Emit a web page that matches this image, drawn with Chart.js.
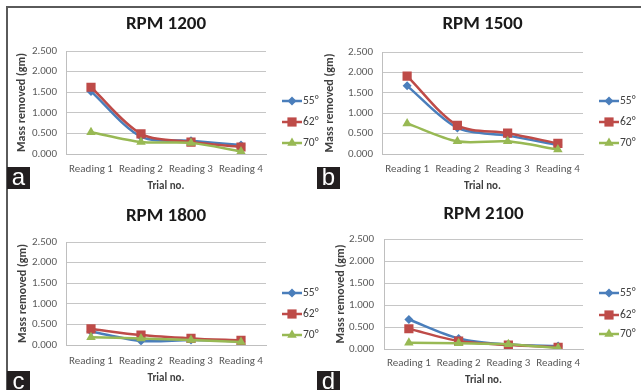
<!DOCTYPE html>
<html>
<head>
<meta charset="utf-8">
<script src="https://cdn.jsdelivr.net/npm/chart.js@4/dist/chart.umd.min.js"></script>
<style>
  html, body { margin: 0; padding: 0; background: #fff; }
  #wrap { position: relative; width: 641px; height: 390px; overflow: hidden; background: #fff; }
  canvas { position: absolute; }
  .hline { position: absolute; left: 6px; top: 6px; width: 635px; height: 2px; background: #5a5a5a; z-index: 5; }
  .vline { position: absolute; left: 6px; top: 6px; width: 2px; height: 384px; background: #5a5a5a; z-index: 5; }
  .lab { position: absolute; width: 23px; height: 22px; background: #231f20; color: #fff;
         font-family: "Liberation Sans", Arial, sans-serif; font-size: 24px; line-height: 20px;
         text-align: center; z-index: 6; }
</style>
</head>
<body>
<div id="wrap">
  <canvas id="ca" width="320" height="195" style="left:0;top:0"></canvas>
  <canvas id="cb" width="321" height="195" style="left:320px;top:0"></canvas>
  <canvas id="cc" width="320" height="195" style="left:0;top:195px"></canvas>
  <canvas id="cd" width="321" height="195" style="left:320px;top:195px"></canvas>
  <div class="hline"></div>
  <div class="vline"></div>
  <div class="lab" style="left:7px;top:167px">a</div>
  <div class="lab" style="left:317px;top:167px">b</div>
  <div class="lab" style="left:7px;top:371px">c</div>
  <div class="lab" style="left:317px;top:371px">d</div>
</div>
<script>
// ---------- DATA ----------
const categories = ['Reading 1', 'Reading 2', 'Reading 3', 'Reading 4'];
const seriesNames = ['55°', '62°', '70°'];
const panelTitles = ['RPM 1200', 'RPM 1500', 'RPM 1800', 'RPM 2100'];
const yTickValues = [0, 0.5, 1, 1.5, 2, 2.5];
const yTickLabels = ['0.000', '0.500', '1.000', '1.500', '2.000', '2.500'];
const xAxisTitle = 'Trial no.';
const yAxisTitle = 'Mass removed (gm)';

const rpm1200_55 = [1.52, 0.42, 0.32, 0.22];
const rpm1200_62 = [1.62, 0.49, 0.29, 0.17];
const rpm1200_70 = [0.53, 0.29, 0.27, 0.06];

const rpm1500_55 = [1.67, 0.64, 0.45, 0.22];
const rpm1500_62 = [1.91, 0.70, 0.51, 0.26];
const rpm1500_70 = [0.75, 0.31, 0.31, 0.11];

const rpm1800_55 = [0.33, 0.10, 0.12, 0.09];
const rpm1800_62 = [0.39, 0.24, 0.16, 0.11];
const rpm1800_70 = [0.19, 0.16, 0.12, 0.07];

const rpm2100_55 = [0.67, 0.24, 0.10, 0.07];
const rpm2100_62 = [0.46, 0.18, 0.09, 0.04];
const rpm2100_70 = [0.14, 0.13, 0.11, 0.02];

// ---------- STYLE ----------
const FONT = 'Carlito, Lato, "Open Sans", sans-serif';
const seriesStyle = [
  { color: '#4a7ebb', pointStyle: 'rectRot', radius: 4.5, order: 3 },
  { color: '#be4b48', pointStyle: 'rect', radius: 6.5, order: 2 },
  { color: '#98b954', pointStyle: 'triangle', radius: 5.5, order: 1 }
];

const panels = [
  { id: 'ca', title: panelTitles[0], data: [rpm1200_55, rpm1200_62, rpm1200_70],
    W: 320, H: 195, L: 66, R: 266, T: 51, B: 154, titleY: 24, tickRight: 57, yTitleX: 22,
    xLabelY: 169, xTitleY: 186, legendX: 282, legendY: [101, 122, 143] },
  { id: 'cb', title: panelTitles[1], data: [rpm1500_55, rpm1500_62, rpm1500_70],
    W: 321, H: 195, L: 62, R: 263, T: 52, B: 154, titleY: 24, tickRight: 53, yTitleX: 10,
    xLabelY: 169, xTitleY: 186, legendX: 279, legendY: [101, 122, 143] },
  { id: 'cc', title: panelTitles[2], data: [rpm1800_55, rpm1800_62, rpm1800_70],
    W: 320, H: 195, L: 66, R: 266, T: 47, B: 150, titleY: 21, tickRight: 57, yTitleX: 23,
    xLabelY: 166, xTitleY: 183, legendX: 282, legendY: [98, 119, 140] },
  { id: 'cd', title: panelTitles[3], data: [rpm2100_55, rpm2100_62, rpm2100_70],
    W: 321, H: 195, L: 64, R: 263, T: 44, B: 154, titleY: 19, tickRight: 54, yTitleX: 21,
    xLabelY: 168, xTitleY: 185, legendX: 279, legendY: [98, 120, 139] }
];

function drawMarker(ctx, style, x, y) {
  const r = style.radius;
  ctx.beginPath();
  if (style.pointStyle === 'rectRot') {
    ctx.moveTo(x, y - r); ctx.lineTo(x + r, y); ctx.lineTo(x, y + r); ctx.lineTo(x - r, y);
  } else if (style.pointStyle === 'rect') {
    const s = r * Math.SQRT1_2;
    ctx.rect(x - s, y - s, 2 * s, 2 * s);
  } else {
    const a = r * Math.cos(Math.PI / 6), b = r * 0.5;
    ctx.moveTo(x, y - r); ctx.lineTo(x + a, y + b); ctx.lineTo(x - a, y + b);
  }
  ctx.closePath();
  ctx.fill();
}

const legendPlugin = {
  id: 'sideLegend',
  afterDraw(chart, args, opts) {
    const ctx = chart.ctx;
    const g = opts.geom;
    ctx.save();
    chart.data.datasets.forEach((ds, i) => {
      const st = seriesStyle[i];
      const y = g.legendY[i];
      ctx.strokeStyle = st.color;
      ctx.lineWidth = 2.5;
      ctx.beginPath();
      ctx.moveTo(g.legendX, y);
      ctx.lineTo(g.legendX + 20, y);
      ctx.stroke();
      ctx.fillStyle = st.color;
      drawMarker(ctx, st, g.legendX + 10, y);
      ctx.fillStyle = '#404040';
      ctx.font = '11.5px ' + FONT;
      ctx.textBaseline = 'middle';
      ctx.textAlign = 'left';
      ctx.fillText(ds.label, g.legendX + 21, y);
    });
    ctx.restore();
  }
};

panels.forEach(p => {
  const tickFont = { family: FONT, size: 11 };
  new Chart(document.getElementById(p.id), {
    type: 'line',
    data: {
      labels: categories,
      datasets: p.data.map((vals, i) => ({
        label: seriesNames[i],
        data: vals,
        borderColor: seriesStyle[i].color,
        backgroundColor: seriesStyle[i].color,
        pointBackgroundColor: seriesStyle[i].color,
        pointBorderColor: seriesStyle[i].color,
        pointBorderWidth: 0,
        pointStyle: seriesStyle[i].pointStyle,
        pointRadius: seriesStyle[i].radius,
        borderWidth: 2.5,
        tension: 0.3,
        fill: false,
        order: seriesStyle[i].order
      }))
    },
    options: {
      responsive: false,
      animation: false,
      devicePixelRatio: 1,
      layout: { padding: { left: 0, top: 0, bottom: 0, right: p.W - p.R } },
      plugins: {
        legend: { display: false },
        tooltip: { enabled: false },
        title: {
          display: true,
          text: p.title,
          fullSize: false,
          color: '#1a1a1a',
          font: { family: FONT, size: 19, weight: 'bold', lineHeight: 1.2 },
          padding: { top: p.titleY - 11.4, bottom: p.T - p.titleY - 11.4 }
        },
        sideLegend: { geom: p }
      },
      scales: {
        x: {
          type: 'category',
          offset: true,
          grid: { display: false, drawTicks: false },
          border: { display: true, color: '#bfbfbf', width: 1 },
          ticks: { color: '#595959', font: tickFont, padding: p.xLabelY - p.B - 6.6, maxRotation: 0, autoSkip: false },
          title: { display: true, text: xAxisTitle, color: '#404040',
                   font: { family: FONT, size: 11, weight: 'bold' },
                   padding: { top: 0, bottom: p.H - p.xTitleY - 6.6 } },
          afterFit: s => { s.height = p.H - p.B; }
        },
        y: {
          min: 0, max: 2.5,
          grid: { color: '#c6c6c6', lineWidth: 1, drawTicks: false },
          border: { display: true, color: '#bfbfbf', width: 1 },
          afterBuildTicks: s => { s.ticks = yTickValues.map(v => ({ value: v })); },
          ticks: { color: '#595959', font: tickFont, padding: p.L - p.tickRight,
                   callback: (v, idx) => yTickLabels[idx] },
          title: { display: true, text: yAxisTitle, color: '#404040',
                   font: { family: FONT, size: 12, weight: 'bold' },
                   padding: { top: p.yTitleX - 7.2, bottom: 0 } },
          afterFit: s => { s.width = p.L; }
        }
      }
    },
    plugins: [legendPlugin]
  });
});
</script>
</body>
</html>
